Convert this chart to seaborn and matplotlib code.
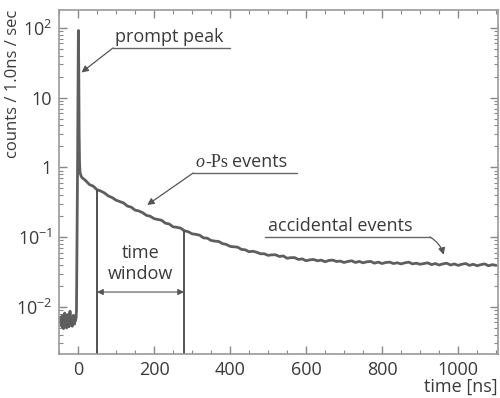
import numpy as np
import pandas as pd
import seaborn as sns
import matplotlib.pyplot as plt

# counts per 1 ns bin
pre_t = np.arange(-46, -3)
pre_counts = [0.0060, 0.0072, 0.0055, 0.0068, 0.0052, 0.0075, 0.0058, 0.0064, 0.0049, 0.0070,
              0.0061, 0.0082, 0.0054, 0.0066, 0.0059, 0.0073, 0.0050, 0.0069, 0.0057, 0.0078,
              0.0056, 0.0065, 0.0052, 0.0071, 0.0060, 0.0087, 0.0055, 0.0067, 0.0062, 0.0058,
              0.0070, 0.0053, 0.0064, 0.0059, 0.0076, 0.0061, 0.0068, 0.0057, 0.0072, 0.0063,
              0.0066, 0.0071, 0.0090]

peak_t = [-3, -2, -1, 0, 1, 2, 3, 4, 5, 6, 8]
peak_counts = [0.05, 0.4, 1.3, 15, 92, 25, 3, 1.2, 0.9, 0.82, 0.76]

tail_t = np.arange(10, 1101, 10)
tail_counts = [0.72, 0.65, 0.57, 0.54, 0.48, 0.46, 0.43, 0.39, 0.37, 0.34,
               0.325, 0.31, 0.28, 0.27, 0.245, 0.238, 0.225, 0.206, 0.20, 0.185,
               0.18, 0.175, 0.159, 0.155, 0.141, 0.139, 0.135, 0.124, 0.12, 0.112,
               0.11, 0.107, 0.098, 0.097, 0.09, 0.088, 0.087, 0.081, 0.079, 0.074,
               0.073, 0.072, 0.067, 0.066, 0.062, 0.063, 0.061, 0.058, 0.058, 0.055,
               0.056, 0.056, 0.053, 0.054, 0.050, 0.051, 0.051, 0.048, 0.049, 0.046,
               0.0475, 0.048, 0.046, 0.047, 0.0445, 0.0465, 0.047, 0.045, 0.0455, 0.0435,
               0.045, 0.046, 0.0435, 0.045, 0.043, 0.0445, 0.045, 0.0425, 0.044, 0.042,
               0.0435, 0.044, 0.042, 0.043, 0.0415, 0.043, 0.044, 0.0415, 0.0425, 0.041,
               0.042, 0.043, 0.0405, 0.042, 0.040, 0.0415, 0.0425, 0.040, 0.0415, 0.0395,
               0.041, 0.042, 0.0395, 0.041, 0.039, 0.0405, 0.0415, 0.039, 0.0405, 0.0395]

window_t = [50, 279]
window_top = [0.48, 0.124]

ytick_vals = [1e-2, 1e-1, 1, 10, 100]
ytick_labels = ['$10^{-2}$', '$10^{-1}$', '1', '10', '$10^{2}$']
xtick_vals = [0, 200, 400, 600, 800, 1000]

sns.set_style('ticks')
plt.rcParams['font.family'] = ['Open Sans', 'DejaVu Sans']
plt.rcParams['mathtext.fontset'] = 'custom'
plt.rcParams['mathtext.rm'] = 'Open Sans'
plt.rcParams['mathtext.it'] = 'Open Sans:italic'

txt = '#3a3a3a'
fs = 13

df = pd.DataFrame({
    'time': np.concatenate([pre_t, peak_t, tail_t]),
    'counts': np.concatenate([pre_counts, peak_counts, tail_counts]),
})

fig = plt.figure(figsize=(5, 3.98), dpi=100)
ax = fig.add_axes([59 / 500, 1 - 354 / 398, 439 / 500, 344 / 398])

sns.lineplot(data=df, x='time', y='counts', color='#5e5e5e', lw=2.0,
             estimator=None, ax=ax)
ax.set_yscale('log')
ax.set_xlim(-50, 1105)
ylo = 0.00212
ax.set_ylim(ylo, 181)

# time window
ax.vlines(window_t, ylo, window_top, color='#444444', lw=1.3)
ax.annotate('', xy=(window_t[0], 0.0164), xytext=(window_t[1], 0.0164),
            arrowprops=dict(arrowstyle='<|-|>', color='#555555', lw=0.8,
                            mutation_scale=9, shrinkA=0, shrinkB=0))
ax.text(165, 0.042, 'time\nwindow', ha='center', va='center', fontsize=fs,
        color=txt, linespacing=1.15)

arrow_kw = dict(arrowstyle='-|>', color='#555555', lw=0.9, mutation_scale=10,
                shrinkA=0, shrinkB=0)

# prompt peak
ax.plot([92, 400], [51.7, 51.7], color='#666666', lw=1.0)
ax.annotate('', xy=(9, 23), xytext=(92, 51.7), arrowprops=arrow_kw)
ax.text(97, 56, 'prompt peak', ha='left', va='bottom', fontsize=fs, color=txt)

# o-Ps events
ax.plot([303, 576], [0.834, 0.834], color='#666666', lw=1.0)
ax.annotate('', xy=(182, 0.29), xytext=(303, 0.834), arrowprops=arrow_kw)
ax.text(334, 0.88, 'o', ha='right', va='bottom', fontsize=fs, color=txt,
        family='Liberation Serif', style='italic')
ax.text(335, 0.88, '-Ps', ha='left', va='bottom', fontsize=fs, color=txt,
        family='Liberation Serif')
ax.text(405, 0.88, 'events', ha='left', va='bottom', fontsize=fs, color=txt)

# accidental events
ax.plot([492, 926], [0.101, 0.101], color='#666666', lw=1.0)
ax.annotate('', xy=(962, 0.056), xytext=(926, 0.101),
            arrowprops=dict(connectionstyle='arc3,rad=-0.2', **arrow_kw))
ax.text(500, 0.107, 'accidental events', ha='left', va='bottom', fontsize=fs,
        color=txt)

ax.set_xticks(xtick_vals)
ax.set_xticks(np.arange(-50, 1101, 50), minor=True)
ax.set_yticks(ytick_vals)
ax.set_yticklabels(ytick_labels)
ax.tick_params(which='both', direction='in', top=True, right=True,
               color='#888888', labelcolor=txt, labelsize=fs)
ax.tick_params(which='major', length=6, width=1.0, pad=5)
ax.tick_params(which='minor', length=3, width=0.8)

for s in ax.spines.values():
    s.set_color('#999999')
    s.set_linewidth(1.2)

ax.set_xlabel('time [ns]', fontsize=fs, color=txt, loc='right')
ax.xaxis.set_label_coords(1.0, -0.07)
ax.set_ylabel('counts / 1.0ns / sec', fontsize=12, color=txt, loc='top',
              va='center')
ax.yaxis.set_label_coords(-0.104, 1.0)

fig.savefig('out.png', dpi=100)
